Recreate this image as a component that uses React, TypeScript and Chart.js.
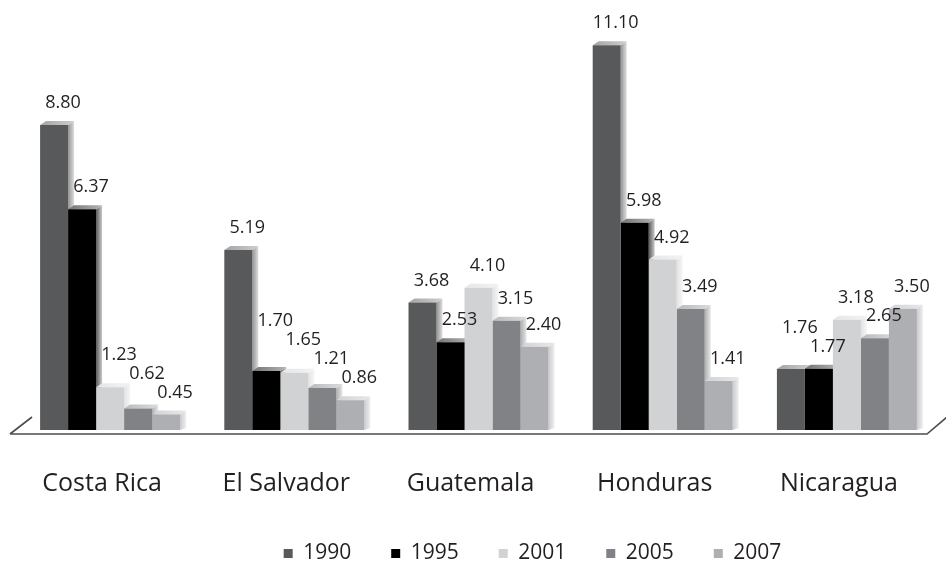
import React, { useEffect, useRef } from "react";
import { Chart, registerables } from "chart.js";

Chart.register(...registerables);

const categories = ["Costa Rica", "El Salvador", "Guatemala", "Honduras", "Nicaragua"];
const years = ["1990", "1995", "2001", "2005", "2007"];
const v1990 = [8.8, 5.19, 3.68, 11.1, 1.76];
const v1995 = [6.37, 1.7, 2.53, 5.98, 1.77];
const v2001 = [1.23, 1.65, 4.1, 4.92, 3.18];
const v2005 = [0.62, 1.21, 3.15, 3.49, 2.65];
const v2007 = [0.45, 0.86, 2.4, 1.41, 3.5];
const seriesValues = [v1990, v1995, v2001, v2005, v2007];
const colors = ["#58595b", "#000000", "#d1d2d4", "#808285", "#aeafb2"];

const FONT = "'Open Sans', 'Noto Sans', sans-serif";

function mix(hex: string, t: number): string {
  const n = parseInt(hex.slice(1), 16);
  const r = (n >> 16) & 255, g = (n >> 8) & 255, b = n & 255;
  const f = (c: number) => Math.round(c + (255 - c) * t);
  return `rgb(${f(r)},${f(g)},${f(b)})`;
}

const DX = 6;
const DY = 4;

const bar3d = {
  id: "bar3d",
  afterLayout(chart: any) {
    const lg = chart.legend;
    if (lg) {
      lg.left += 54;
      lg.right += 54;
      lg.top += 4;
      lg.bottom += 4;
    }
  },
  beforeDatasetsDraw(chart: any) {
    const ctx = chart.ctx;
    const area = chart.chartArea;
    const baseY = chart.scales.y.getPixelForValue(0) + 4;
    ctx.save();
    ctx.strokeStyle = "#4d4d4f";
    ctx.lineWidth = 1.6;
    ctx.beginPath();
    ctx.moveTo(area.left - 8, baseY);
    ctx.lineTo(area.left + 14, baseY - 17);
    ctx.moveTo(area.left - 8, baseY);
    ctx.lineTo(area.right - 12, baseY);
    ctx.lineTo(area.right + 8, baseY - 17);
    ctx.stroke();
    ctx.restore();
    const n = chart.data.labels.length;
    for (let i = 0; i < n; i++) {
      chart.data.datasets.forEach((ds: any, di: number) => {
        const el = chart.getDatasetMeta(di).data[i];
        if (!el) return;
        const { x, y, base, width } = el.getProps(["x", "y", "base", "width"], true);
        const x0 = x - width / 2;
        const x1 = x + width / 2;
        const col = colors[di];
        ctx.save();
        const g = ctx.createLinearGradient(x1, 0, x1 + DX, 0);
        g.addColorStop(0, mix(col, 0.35));
        g.addColorStop(1, mix(col, 0.8));
        ctx.fillStyle = g;
        ctx.beginPath();
        ctx.moveTo(x1, y);
        ctx.lineTo(x1 + DX, y - DY);
        ctx.lineTo(x1 + DX, base - 2);
        ctx.lineTo(x1, base);
        ctx.closePath();
        ctx.fill();
        const tg = ctx.createLinearGradient(x0, 0, x1 + DX, 0);
        tg.addColorStop(0, mix(col, 0.45));
        tg.addColorStop(1, mix(col, 0.7));
        ctx.fillStyle = tg;
        ctx.beginPath();
        ctx.moveTo(x0, y);
        ctx.lineTo(x0 + DX, y - DY);
        ctx.lineTo(x1 + DX, y - DY);
        ctx.lineTo(x1, y);
        ctx.closePath();
        ctx.fill();
        ctx.restore();
      });
    }
  },
  afterDatasetsDraw(chart: any) {
    const ctx = chart.ctx;
    ctx.save();
    ctx.font = `18px ${FONT}`;
    ctx.fillStyle = "#231f20";
    ctx.textAlign = "center";
    ctx.textBaseline = "middle";
    const nSets = chart.data.datasets.length;
    const n = chart.data.labels.length;
    for (let i = 0; i < n; i++) {
      let next: { x: number; y: number; w: number } | null = null;
      for (let di = nSets - 1; di >= 0; di--) {
        const el = chart.getDatasetMeta(di).data[i];
        const txt = Number(chart.data.datasets[di].data[i]).toFixed(2);
        const w = ctx.measureText(txt).width;
        let lx = el.x + 9;
        let ly = el.y - 22;
        if (next && Math.abs(next.x - lx) < (w + next.w) / 2 && Math.abs(next.y - ly) < 18) {
          ly = next.y - 19;
        }
        ctx.fillText(txt, lx, ly);
        next = { x: lx, y: ly, w };
      }
    }
    ctx.restore();
  },
};

export default function App() {
  const ref = useRef<HTMLCanvasElement | null>(null);
  useEffect(() => {
    document.body.style.margin = "0";
    const chart = new Chart(ref.current as HTMLCanvasElement, {
      type: "bar",
      data: {
        labels: categories,
        datasets: years.map((yr, i) => ({
          label: yr,
          data: seriesValues[i],
          backgroundColor: colors[i],
          borderWidth: 0,
          barPercentage: 1,
          categoryPercentage: 0.76,
        })),
      },
      options: {
        responsive: false,
        animation: false,
        layout: { padding: { left: 18, right: 7, top: 14, bottom: -8 } },
        plugins: {
          legend: {
            position: "bottom",
            labels: {
              boxWidth: 9,
              boxHeight: 9,
              padding: 40,
              color: "#231f20",
              font: { size: 21, family: FONT },
            },
          },
          tooltip: { enabled: false },
        },
        scales: {
          x: {
            grid: { display: false },
            border: { display: false },
            ticks: {
              color: "#231f20",
              font: { size: 25, family: FONT },
              padding: 31,
              labelOffset: -8,
            },
            afterFit: (scale: any) => {
              scale.height = 69;
            },
          },
          y: { display: false, min: 0, max: 12 },
        },
      },
      plugins: [bar3d],
    });
    return () => chart.destroy();
  }, []);
  return <canvas ref={ref} width={946} height={562} />;
}
